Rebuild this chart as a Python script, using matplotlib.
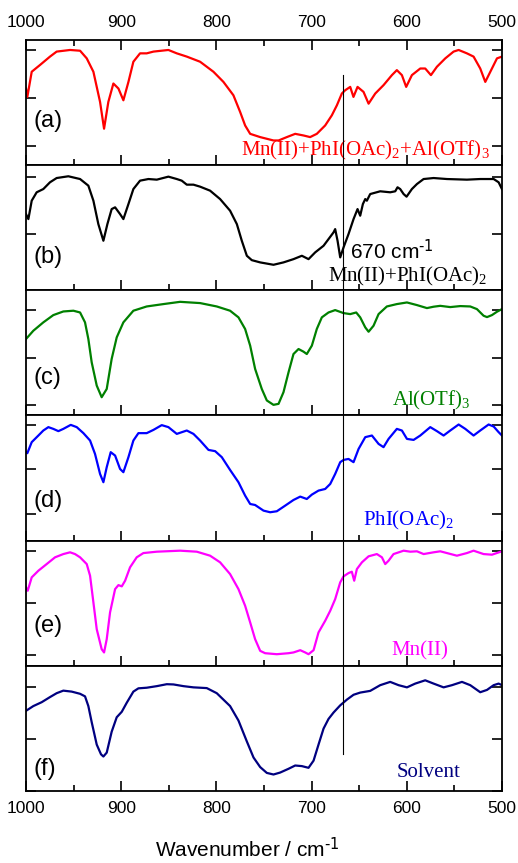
import numpy as np
import matplotlib
matplotlib.use("Agg")
import matplotlib.pyplot as plt
from matplotlib.lines import Line2D
from matplotlib.transforms import blended_transform_factory

plt.rcParams['font.family'] = ['Liberation Sans', 'DejaVu Sans']
plt.rcParams['mathtext.default'] = 'regular'

# Spectra (wavenumber / cm-1, transmittance in arbitrary units, 0-100 per panel)
wn_a = [1000, 998.6, 994, 985.3, 974.8, 967.8, 953.7, 943.2, 936.2, 929.2, 922.2, 918, 913.5, 908.2,
        902.9, 897.7, 892.4, 887.2, 880.2, 873.2, 866.1, 850.4, 841.6, 831.1, 817.1, 803.1, 792.6,
        782.1, 775, 769.8, 764.5, 754, 740, 734.7, 726, 717.2, 708.5, 701.5, 694.5, 685.7, 678.7,
        673.4, 668.2, 664.7, 659.4, 656, 651.7, 645.4, 640.1, 633.1, 624.4, 615.6, 610.4, 605.1,
        600.6, 594.6, 585.8, 580.6, 574.6, 568.3, 559.5, 550.8, 545.5, 536.8, 529.8, 522.8, 517.5,
        510.5, 505.2, 500]
t_a = [61.2, 54.5, 74.6, 80, 86.7, 90.7, 92, 91.4, 85.3, 74.6, 50.5, 29.1, 50.5, 65.2,
       61.2, 51.8, 66.5, 82.6, 89.3, 89.3, 90.7, 92, 89.3, 86.7, 82.6, 74.6, 66.5,
       55.8, 42.4, 31.7, 25, 22.4, 19.7, 19.7, 22.4, 25, 23.7, 22.4, 25, 31.7, 39.8,
       47.8, 57.2, 59.8, 62.5, 54.5, 62.5, 58.5, 49.1, 57.2, 63.9, 71.9, 75.9, 71.9,
       62.5, 71.9, 77.2, 77.2, 71.9, 78.6, 85.3, 90.7, 92, 89.3, 86.7, 77.2, 66.5,
       77.2, 85.3, 86.7]

wn_b = [1000, 997.5, 994, 988.8, 981.8, 974.8, 967.8, 955.5, 943.2, 934.5, 929.2, 924, 918.7, 914.5,
        910, 906.4, 901.2, 897.7, 892.4, 887.2, 880.2, 871.4, 862.6, 850.4, 841.6, 836.4, 831.1,
        824.1, 817.1, 806.6, 796.1, 785.6, 778.5, 773.3, 768, 762.8, 754, 740, 729.5, 719, 710.2,
        703.2, 696.2, 687.4, 682.2, 676.9, 675.2, 672.7, 669.9, 666.4, 661.2, 655.9, 651.7, 648.9,
        646.1, 643.6, 641.9, 638.4, 627.9, 617.4, 612.1, 609.7, 606.9, 603.3, 600.2, 594.6, 589.3,
        582.3, 571.8, 557.8, 536.8, 522.8, 508.7, 503.5, 500]
t_b = [60.9, 56.9, 71.6, 78.3, 80.9, 86.3, 89.7, 91.1, 88.9, 83.6, 71.6, 52.9, 39.6, 52.9,
       64.9, 66.3, 60.9, 56.9, 68.9, 80.9, 87.6, 88.9, 88.4, 90.8, 88.9, 87.6, 84.4,
       84.4, 82.8, 79.6, 72.9, 63.6, 52.9, 39.6, 27.6, 24.1, 22.3, 20.4, 22.3, 24.9, 27.6,
       24.9, 30.3, 35.6, 40.9, 46.3, 48.9, 39.6, 26.3, 34.3, 44.9, 56.9, 64.9, 59.6,
       68.9, 72.9, 71.6, 76.9, 79.1, 78.3, 79.1, 82.3, 80.9, 76.9, 74.8, 80.9, 84.9,
       88.9, 89.7, 88.9, 88.4, 88.9, 88.9, 86.3, 80.9]

wn_c = [1000, 992.3, 981.8, 971.3, 960.8, 950.2, 943.2, 938, 934.5, 931, 925.7, 920.5, 915.2, 910,
        904.7, 897.7, 887.2, 873.2, 855.6, 838.1, 817.1, 799.6, 785.6, 776.8, 769.8, 764.5, 759.3,
        752.3, 747, 740, 734.7, 729.5, 724.2, 719, 713.7, 708.5, 705, 699.7, 694.5, 689.2, 682.2,
        675.2, 666.4, 659.4, 653.1, 648.9, 643.6, 640.1, 634.9, 629.6, 620.9, 610.4, 599.8, 589.3,
        578.8, 571.8, 564.8, 554.3, 543.8, 533.3, 526.3, 519.3, 515.7, 510.5, 505.2, 500]
t_c = [61.1, 67.7, 74.4, 80.2, 83.1, 83.7, 82.3, 74.4, 61.1, 42.5, 23.9, 14.6, 21.2, 45.2,
       62.4, 74.4, 83.7, 87.1, 89, 90.8, 89.8, 87.1, 83.7, 78.4, 69.1, 55.8, 37.2,
       21.2, 12, 8.5, 9.3, 18.6, 34.5, 49.1, 53.1, 51, 49.1, 55.8, 69.1, 78.4, 82.3,
       84.2, 81.8, 81, 82.3, 78.4, 70.4, 66.9, 71.7, 81, 87.1, 89, 90.3, 88.2,
       85.8, 86.9, 87.6, 86.6, 87.4, 87.1, 85, 79.7, 78.6, 80.2, 82.9, 85]

wn_d = [1000, 998.6, 994, 987, 981.8, 976.5, 971.3, 966, 960.8, 953, 946.7, 939.7, 932.7, 927.5,
        922.2, 918.7, 915.2, 911, 906.4, 901.2, 897.7, 892.4, 887.2, 881.9, 873.2, 866.1, 857.4,
        850.4, 841.6, 831.1, 824.1, 817.1, 808.3, 801.3, 794.3, 785.6, 776.8, 769.8, 764.5, 759.3,
        750.5, 743.5, 736.5, 727.7, 719, 711.9, 705, 699.7, 692.7, 685.7, 680.4, 675.2, 669.9,
        666.4, 661.2, 655.9, 650.6, 643.6, 636.6, 629.6, 624.4, 619.1, 610.4, 605.1, 599.8, 592.8,
        585.8, 575.3, 568.3, 561.3, 554.3, 545.5, 538.5, 529.8, 522.8, 514, 508.7, 503.5, 500]
t_d = [70.7, 69.9, 78.7, 84, 88, 90.7, 89.3, 87.5, 89.3, 92.5, 90.7, 85.9, 80, 69.3,
       53.3, 46.7, 58.7, 70.7, 68, 57.3, 54.7, 66.7, 80, 85.9, 85.9, 88.5, 92.3,
       90.7, 85.3, 88, 85.3, 80, 72.5, 71.5, 66.7, 56.5, 46.7, 36, 29.3, 28.5,
       24, 22.7, 23.5, 28, 32.5, 35.2, 33.3, 36.8, 40, 41.3, 45.3, 53.3, 62.7,
       64.5, 65.3, 62.7, 73.3, 82.7, 84, 77.3, 74.7, 81.3, 89.3, 88, 81.3, 80.5,
       84, 90.7, 87.5, 84, 88, 92.8, 89.3, 84, 88, 92.8, 91.2, 86.7, 84]

wn_e = [1000, 998.2, 994, 987, 978.3, 969.5, 960.8, 953.7, 948.5, 943.2, 936.2, 932.7, 929.2, 925.7,
        920.5, 918, 915.2, 911.7, 906.4, 902.9, 899.4, 895.9, 890.7, 883.7, 876.7, 862.6, 838.1,
        820.6, 806.6, 796.1, 785.6, 776.8, 769.8, 764.5, 759.3, 754, 748.8, 736.5, 724.2, 719,
        711.9, 706.7, 703.2, 697.9, 692.7, 685.7, 680.4, 675.2, 669.9, 666.4, 661.2, 657.7, 655.2,
        652.4, 647.1, 640.1, 631.4, 626.1, 622.6, 619.1, 613.9, 603.3, 596.3, 589.3, 582.3, 571.8,
        564.8, 557.8, 547.3, 536.8, 529.8, 519.3, 510.5, 500]
t_e = [62.7, 60, 70.7, 76, 81.3, 86.7, 89.3, 90.7, 89.3, 86.7, 81.3, 72, 50.7, 29.3,
       13.3, 10.7, 21.3, 42.7, 61.3, 64.5, 63.5, 68, 78.7, 86.7, 90.1, 91.2, 92,
       91.2, 88, 82.7, 73.3, 61.3, 48, 34.7, 21.3, 12, 10.1, 9.3, 10.1, 10.7,
       12.5, 10.7, 9.3, 12.5, 26.7, 36, 44, 53.3, 66.7, 71.5, 74.1, 75.2, 68,
       77.3, 82.7, 87.5, 89.3, 86.7, 81.3, 84, 89.3, 92, 91.2, 91.5, 89.3, 90.7,
       91.5, 90.1, 88, 90.1, 92, 89.3, 88.8, 91.5]

wn_f = [1000, 992.3, 983.5, 974.8, 967.8, 960.8, 952, 943.2, 938, 934.5, 931, 925.7, 921.2, 918.7,
        915.2, 910, 904.7, 899.4, 894.2, 887.2, 881.9, 873.2, 862.6, 852.1, 845.1, 834.6, 824.1,
        810.1, 799.6, 785.6, 776.8, 768, 761, 754, 747, 740, 733, 724.2, 717.2, 710.2, 703.2,
        697.9, 692.7, 687.4, 682.2, 676.9, 669.9, 662.9, 655.9, 648.9, 638.4, 627.9, 617.4, 608.6,
        599.8, 591.1, 580.6, 571.8, 561.3, 552.5, 542, 533.3, 522.8, 515.7, 508.7, 503.5, 500]
t_f = [63, 66.9, 70.1, 74.3, 77.5, 79.6, 78.8, 77, 74.9, 66.9, 53.7, 35.2, 27.2, 25.4,
       28.6, 45.8, 57.7, 62.2, 69.6, 78.8, 81.5, 82, 83.3, 84.9, 84.7, 83.3, 82.3,
       81.7, 77.5, 66.9, 55, 37.8, 24.6, 16.7, 11.9, 10.6, 12.2, 15.3, 18, 17.5, 16.1,
       22, 35.2, 48.4, 56.3, 61.6, 67.5, 72.2, 76.2, 78, 79.4, 84.1, 86.8, 84.1,
       82.3, 85.4, 88.1, 85.4, 82.3, 84.1, 86.8, 84.1, 78.3, 80.2, 84.1, 85.4, 84.1]

spectra = [(wn_a, t_a), (wn_b, t_b), (wn_c, t_c), (wn_d, t_d), (wn_e, t_e), (wn_f, t_f)]
colors = ['#ff0000', '#000000', '#008000', '#0000ff', '#ff00ff', '#000080']
panel_tags = ['(a)', '(b)', '(c)', '(d)', '(e)', '(f)']
names = ['Mn(II)+PhI(OAc)$_2$+Al(OTf)$_3$', 'Mn(II)+PhI(OAc)$_2$', 'Al(OTf)$_3$',
         'PhI(OAc)$_2$', 'Mn(II)', 'Solvent']
yticks = [[14.9, 53.7, 92], [0, 44.9, 90.8], [8, 45.9, 84.2],
          [21.3, 57.1, 92.8], [8.5, 49.9, 91.5], [-3, 39.9, 82.8]]
tag_y = [0.35, 0.27, 0.30, 0.32, 0.32, 0.175]
name_x = [0.975, 0.968, 0.933, 0.90, 0.887, 0.912]
name_y = [0.076, 0.07, 0.08, 0.12, 0.08, 0.11]
marker_wn = 667

fig, axs = plt.subplots(6, 1, figsize=(5.18, 8.63), dpi=100, sharex=True,
                        gridspec_kw=dict(hspace=0, left=0.0502, right=0.969,
                                         top=0.9537, bottom=0.0834))

for i, ax in enumerate(axs):
    wn, t = spectra[i]
    ax.plot(wn, t, color=colors[i], lw=1.6, solid_joinstyle='round')
    ax.set_xlim(1000, 500)
    ax.set_ylim(0, 100)
    ax.set_yticks(yticks[i])
    ax.set_yticklabels([])
    ax.set_xticks(np.arange(500, 1001, 100))
    ax.set_xticks(np.arange(550, 1000, 100), minor=True)
    ax.tick_params(axis='y', direction='in', length=7, width=1.2, left=True, right=True)
    ax.tick_params(axis='x', which='major', direction='in', length=7, width=1.2,
                   top=(i == 0), bottom=True, labeltop=(i == 0), labelbottom=(i == 5),
                   labelsize=12.5, pad=7)
    ax.tick_params(axis='x', which='minor', direction='in', length=4, width=1.2,
                   top=(i == 0), bottom=True)
    for s in ax.spines.values():
        s.set_linewidth(1.3)
    ax.text(0.015, tag_y[i], panel_tags[i], transform=ax.transAxes, fontsize=17,
            va='center', ha='left')
    ax.text(name_x[i], name_y[i], names[i], transform=ax.transAxes, fontsize=15,
            color=colors[i], family='Liberation Serif', ha='right', va='baseline')

axs[1].text(659.4, 25, r'670 cm$^{\text{-1}}$', fontsize=15, ha='left', va='baseline')

trans = blended_transform_factory(axs[0].transData, fig.transFigure)
fig.add_artist(Line2D([marker_wn, marker_wn], [1 - 75 / 863, 1 - 754 / 863],
                      transform=trans, color='black', lw=0.8))

fig.text(0.477, 1 - 849 / 863, r'Wavenumber / cm$^{\text{-1}}$', fontsize=15,
         ha='center', va='center')

fig.savefig('out.png', dpi=100)
